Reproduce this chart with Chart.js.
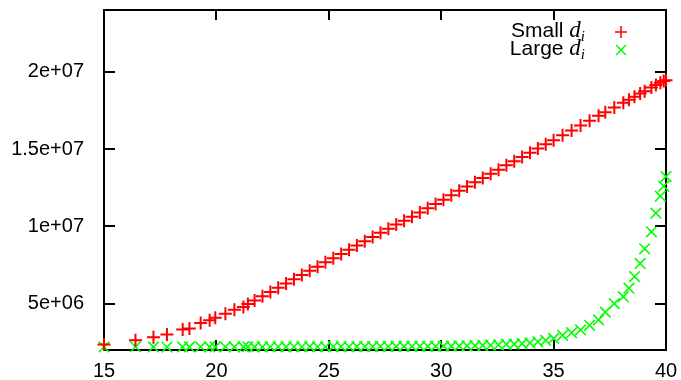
<!DOCTYPE html>
<html>
<head>
<meta charset="utf-8">
<script src="https://cdn.jsdelivr.net/npm/chart.js@4"></script>
<style>
  html, body { margin: 0; padding: 0; background: #fff; }
  #wrap { width: 681px; height: 380px; }
</style>
</head>
<body>
<div id="wrap"><canvas id="chart" width="681" height="380"></canvas></div>
<script>
// x positions shared by both series
const xValues = [15.0, 16.4, 17.2, 17.8, 18.5, 18.8, 19.3, 19.7, 19.95, 20.4,
  20.8, 21.2, 21.4, 21.7, 22.05, 22.4, 22.75, 23.1, 23.45, 23.8,
  24.15, 24.5, 24.85, 25.2, 25.55, 25.9, 26.25, 26.6, 26.95, 27.3,
  27.65, 28.0, 28.35, 28.7, 29.05, 29.4, 29.75, 30.1, 30.45, 30.8,
  31.15, 31.5, 31.85, 32.2, 32.55, 32.9, 33.25, 33.6, 33.95, 34.3,
  34.65, 35.0, 35.4, 35.8, 36.2, 36.6, 37.0, 37.3, 37.7, 38.1,
  38.35, 38.6, 38.85, 39.05, 39.35, 39.55, 39.75, 39.9, 40.0];

// values in millions
const smallDi = [2.35, 2.63, 2.82, 3.0, 3.32, 3.39, 3.75, 3.92, 4.08, 4.35,
  4.61, 4.79, 4.98, 5.21, 5.48, 5.76, 6.03, 6.30, 6.58, 6.85,
  7.12, 7.39, 7.67, 7.94, 8.21, 8.49, 8.76, 9.03, 9.31, 9.58,
  9.85, 10.12, 10.36, 10.62, 10.89, 11.17, 11.45, 11.73, 12.02, 12.30,
  12.58, 12.86, 13.13, 13.40, 13.67, 13.95, 14.22, 14.49, 14.77, 15.04,
  15.31, 15.58, 15.90, 16.21, 16.52, 16.83, 17.15, 17.38, 17.69, 18.00,
  18.20, 18.39, 18.59, 18.75, 18.98, 19.14, 19.29, 19.41, 19.45];

const largeDi = [2.2, 2.21, 2.2, 2.19, 2.2, 2.2, 2.21, 2.2, 2.2, 2.21,
  2.2, 2.2, 2.21, 2.2, 2.2, 2.21, 2.21, 2.2, 2.21, 2.21,
  2.22, 2.21, 2.21, 2.22, 2.22, 2.21, 2.22, 2.22, 2.22, 2.23,
  2.22, 2.23, 2.23, 2.23, 2.24, 2.24, 2.24, 2.25, 2.25, 2.26,
  2.27, 2.28, 2.30, 2.31, 2.33, 2.36, 2.38, 2.42, 2.46, 2.53,
  2.62, 2.75, 2.95, 3.12, 3.30, 3.60, 3.95, 4.45, 5.00, 5.45,
  6.00, 6.75, 7.60, 8.55, 9.65, 10.85, 11.95, 12.60, 13.22];

const xTicks = [15, 20, 25, 30, 35, 40];
const yTicks = [5e6, 1e7, 1.5e7, 2e7];
const yTickLabels = ["5e+06", "1e+07", "1.5e+07", "2e+07"];

const FONT = '"Liberation Sans", Arial, sans-serif';
const MATH = '"Liberation Serif", serif';

const toPoints = vals => xValues.map((x, i) => ({ x: x, y: vals[i] * 1e6 }));

// gnuplot-style border with inward ticks on all four sides
const framePlugin = {
  id: "frame",
  beforeDatasetsDraw(chart) {
    const { ctx, chartArea: a, scales } = chart;
    ctx.save();
    ctx.strokeStyle = "#000";
    ctx.lineWidth = 2;
    ctx.strokeRect(a.left, a.top, a.right - a.left, a.bottom - a.top);
    ctx.beginPath();
    xTicks.forEach(v => {
      const px = Math.round(scales.x.getPixelForValue(v));
      ctx.moveTo(px, a.bottom); ctx.lineTo(px, a.bottom - 10);
      ctx.moveTo(px, a.top); ctx.lineTo(px, a.top + 10);
    });
    yTicks.forEach(v => {
      const py = Math.round(scales.y.getPixelForValue(v));
      ctx.moveTo(a.left, py); ctx.lineTo(a.left + 11, py);
      ctx.moveTo(a.right, py); ctx.lineTo(a.right - 11, py);
    });
    ctx.stroke();
    ctx.restore();
  }
};

// key: "Small d_i" / "Large d_i" with math italic d and subscript i
const keyPlugin = {
  id: "key",
  afterDraw(chart) {
    const ctx = chart.ctx;
    const rightEdge = 585;
    const markX = 621;
    const rows = [
      { text: "Small ", base: 37, color: "#ff0000", style: "cross", r: 6 },
      { text: "Large ", base: 55, color: "#00ff00", style: "crossRot", r: 7 }
    ];
    ctx.save();
    ctx.textBaseline = "alphabetic";
    ctx.textAlign = "left";
    rows.forEach(row => {
      ctx.font = "italic 23px " + MATH;
      const dW = ctx.measureText("d").width;
      ctx.font = "italic 15px " + MATH;
      const iW = ctx.measureText("i").width;
      ctx.font = "21px " + FONT;
      const tW = ctx.measureText(row.text).width;
      let x = rightEdge - iW - dW - tW;
      ctx.fillStyle = "#000";
      ctx.fillText(row.text, x, row.base);
      x += tW;
      ctx.font = "italic 23px " + MATH;
      ctx.fillText("d", x, row.base);
      x += dW;
      ctx.font = "italic 15px " + MATH;
      ctx.fillText("i", x, row.base + 4);

      ctx.strokeStyle = row.color;
      ctx.lineWidth = 1.5;
      Chart.helpers.drawPoint(ctx, {
        pointStyle: row.style, radius: row.r, borderWidth: 1.5
      }, markX, row.base - 5);
    });
    ctx.restore();
  }
};

new Chart(document.getElementById("chart"), {
  type: "scatter",
  data: {
    datasets: [
      {
        label: "Small d_i",
        data: toPoints(smallDi),
        pointStyle: "cross",
        pointRadius: 6.5,
        pointBorderWidth: 2,
        borderColor: "#ff0000",
        backgroundColor: "#ff0000",
        clip: false
      },
      {
        label: "Large d_i",
        data: toPoints(largeDi),
        pointStyle: "crossRot",
        pointRadius: 7.5,
        pointBorderWidth: 1.6,
        borderColor: "#00ff00",
        backgroundColor: "#00ff00",
        clip: false
      }
    ]
  },
  options: {
    responsive: false,
    animation: false,
    layout: { padding: { left: 0, right: 15, top: 10, bottom: 0 } },
    plugins: { legend: { display: false }, tooltip: { enabled: false } },
    scales: {
      x: {
        type: "linear",
        min: 15,
        max: 40,
        grid: { display: false },
        border: { display: false },
        afterBuildTicks: s => { s.ticks = xTicks.map(v => ({ value: v })); },
        afterFit: s => { s.height = 30; s.paddingLeft = 0; s.paddingRight = 0; },
        ticks: {
          color: "#000",
          padding: 2,
          maxRotation: 0,
          font: { family: FONT, size: 20, lineHeight: 1.1 },
          callback: v => String(v)
        }
      },
      y: {
        type: "linear",
        min: 2e6,
        max: 2.4e7,
        grid: { display: false },
        border: { display: false },
        afterBuildTicks: s => { s.ticks = yTicks.map(v => ({ value: v })); },
        afterFit: s => { s.width = 104; s.paddingTop = 0; s.paddingBottom = 0; },
        ticks: {
          color: "#000",
          padding: 12,
          font: { family: FONT, size: 20 },
          callback: v => yTickLabels[yTicks.indexOf(v)]
        }
      }
    }
  },
  plugins: [framePlugin, keyPlugin]
});
</script>
</body>
</html>
